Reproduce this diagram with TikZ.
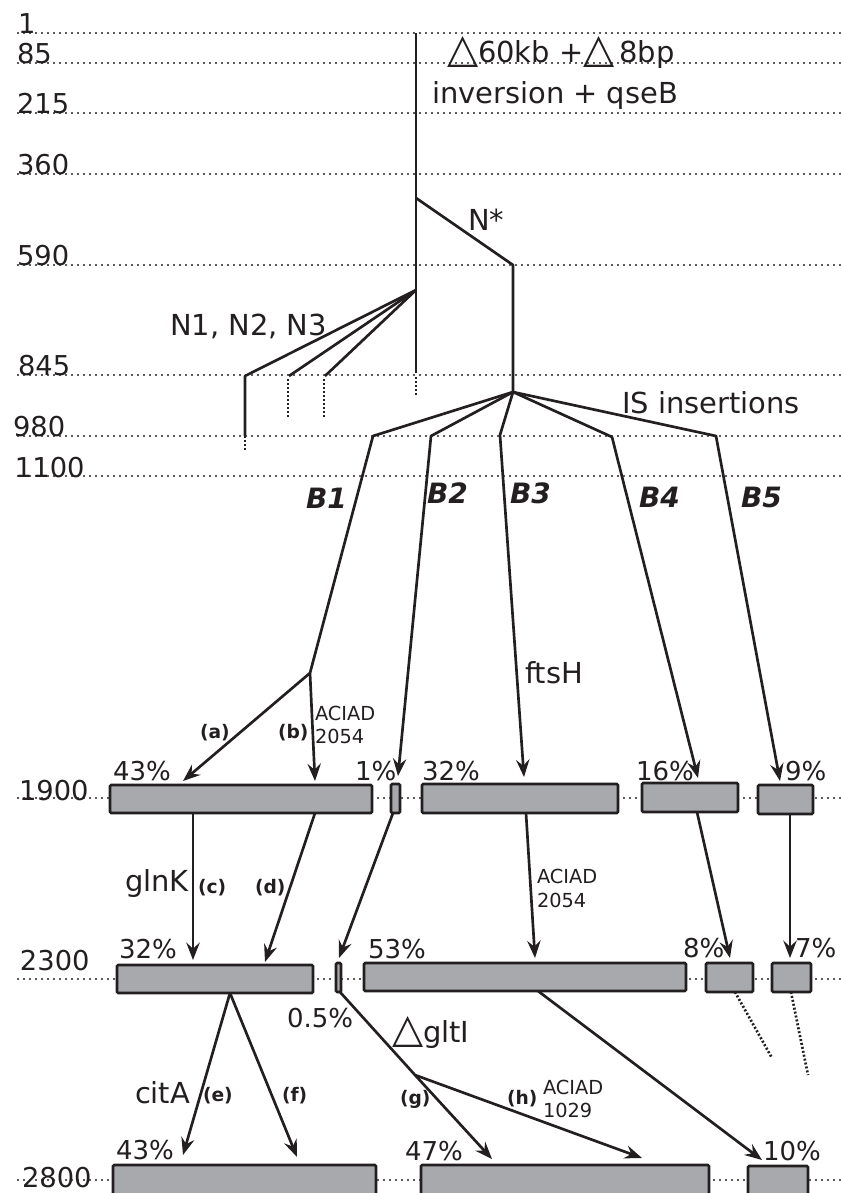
\documentclass[tikz,border=0pt]{standalone}
\usepackage{fontspec}
\usepackage{graphicx}
\setmainfont{DejaVu Sans}
\usetikzlibrary{arrows.meta}
\definecolor{ink}{HTML}{231F20}
\definecolor{boxgray}{HTML}{A7A9AC}
\newcommand{\fbig}{\fontsize{21.7}{25}\selectfont}
\newcommand{\fblab}{\fontsize{21}{25}\selectfont}
\newcommand{\frow}{\fontsize{20.5}{24}\selectfont}
\newcommand{\fpct}{\fontsize{19.5}{23}\selectfont}
\newcommand{\fsm}{\fontsize{14.5}{17}\selectfont}
\newcommand{\fbsm}{\fontsize{14}{16}\selectfont\bfseries}
\newcommand{\bigtri}{\scalebox{1.4}{△}}
\newcommand{\gbx}[5]{\node[gbox, minimum width={(#4-#2)*0.75pt}, minimum height={(#5-#3)*0.75pt}] (#1) at (#2,#3) {};}
\begin{document}
\begin{tikzpicture}[x=0.75pt,y=-0.75pt,
 lbl/.style={inner sep=0pt, outer sep=0pt, anchor=base west, text=ink},
 big/.style={lbl, font=\fbig},
 rowl/.style={lbl, font=\frow},
 pct/.style={lbl, font=\fpct},
 sm/.style={lbl, font=\fsm},
 bsm/.style={lbl, font=\fbsm},
 blab/.style={lbl, font=\fblab\bfseries\itshape},
 dotl/.style={draw=ink, line width=1.6pt, line cap=round, dash pattern=on 0.1pt off 4.4pt},
 tree/.style={draw=ink, line width=2pt, line join=round},
 treedot/.style={draw=ink, line width=2pt, dash pattern=on 1.5pt off 1.5pt},
 arr/.style={tree, -{Stealth[length=13pt,width=10pt,inset=4.5pt]}},
 gbox/.style={draw=ink, fill=boxgray, line width=2pt, rounded corners=1pt, inner sep=0pt, outer sep=0pt, anchor=north west}]
\useasboundingbox (0,0) rectangle (840,1193);

% dotted level lines
\foreach \yy in {33,63,113,174,265,375,436,476,798,979,1180}
  \draw[dotl] (18,\yy) -- (840,\yy);

% level labels
\node[rowl] (r1) at (18,33) {1};
\node[rowl] (r85) at (17,63) {85};
\node[rowl] (r215) at (17,113) {215};
\node[rowl] (r360) at (17,174) {360};
\node[rowl] (r590) at (17,265) {590};
\node[rowl] (r845) at (18,375) {845};
\node[rowl] (r980) at (13,436) {980};
\node[rowl] (r1100) at (15,477) {1100};
\node[rowl] (r1900) at (19,800) {1900};
\node[rowl] (r2300) at (20,970) {2300};
\node[rowl] (r2800) at (22,1187) {2800};

% top labels
\node[big] (del) at (447,62) {\bigtri60kb +\bigtri\,8bp};
\node[big] (inv) at (432,103) {inversion + qseB};
\node[big] (nstar) at (468,230) {N*};
\node[big] (n123) at (170,335) {N1, N2, N3};
\node[big] (isins) at (622,413) {IS insertions};

% trunk and N branches
\coordinate (top) at (416,33);
\coordinate (nst) at (416,198);
\coordinate (nn) at (416,290);
\coordinate (tend) at (416,373);
\coordinate (tdota) at (416,377);
\coordinate (tdotb) at (416,397);
\coordinate (nsb) at (513,265);
\coordinate (is) at (513,392);
\coordinate (n1) at (245,376);
\coordinate (n1e) at (245,436);
\coordinate (n1d) at (245,450);
\coordinate (n2) at (289,376);
\coordinate (n2a) at (288,379);
\coordinate (n2d) at (288,417);
\coordinate (n3) at (325,376);
\coordinate (n3a) at (324,379);
\coordinate (n3d) at (324,417);

\draw[tree] (top) -- (tend);
\draw[treedot] (tdota) -- (tdotb);
\draw[tree] (nst) -- (nsb) -- (is);
\draw[tree] (nn) -- (n1) -- (n1e);
\draw[treedot] (n1e) -- (n1d);
\draw[tree] (nn) -- (n2);
\draw[treedot] (n2a) -- (n2d);
\draw[tree] (nn) -- (n3);
\draw[treedot] (n3a) -- (n3d);

% boxes row 1900
\gbx{a1}{110}{785}{372}{813}
\gbx{a2}{391}{784}{400}{813}
\gbx{a3}{422}{784}{618}{813}
\gbx{a4}{642}{783}{738}{812}
\gbx{a5}{758}{785}{813}{814}
% boxes row 2300
\gbx{c1}{117}{965}{313}{993}
\gbx{c2}{336}{963}{341}{992}
\gbx{c3}{364}{963}{686}{991}
\gbx{c4}{706}{963}{753}{992}
\gbx{c5}{772}{963}{811}{992}
% boxes row 2800
\gbx{d1}{113}{1165}{376}{1205}
\gbx{d2}{421}{1165}{709}{1205}
\gbx{d3}{748}{1166}{808}{1205}

% IS branches
\coordinate (b1a) at (373,436);
\coordinate (b1j) at (310,673);
\coordinate (ta) at (183,781);
\coordinate (tb) at (315,781);
\coordinate (b2a) at (431,436);
\coordinate (tb2) at (398,776);
\coordinate (b3a) at (500,435);
\coordinate (tb3) at (524,777);
\coordinate (b4a) at (612,437);
\coordinate (tb4) at (698,778);
\coordinate (b5a) at (716,436);
\coordinate (tb5) at (780,781);

\draw[tree] (is) -- (b1a) -- (b1j);
\draw[arr] (b1j) -- (ta);
\draw[arr] (b1j) -- (tb);
\draw[arr] (is) -- (b2a) -- (tb2);
\draw[arr] (is) -- (b3a) -- (tb3);
\draw[arr] (is) -- (b4a) -- (tb4);
\draw[arr] (is) -- (b5a) -- (tb5);

\node[blab] (lb1) at (306,508) {B1};
\node[blab] (lb2) at (427,503) {B2};
\node[blab] (lb3) at (510,503) {B3};
\node[blab] (lb4) at (639,507) {B4};
\node[blab] (lb5) at (741,507) {B5};
\node[big] (fts) at (525,683) {ftsH};

% row 1900 -> 2300
\coordinate (sc) at (193,813);  \coordinate (ec) at (193,960);
\coordinate (sd) at (315,813);  \coordinate (ed) at (265,962);
\coordinate (s2) at (393,813);  \coordinate (e2) at (339,958);
\coordinate (s3) at (526,813);  \coordinate (e3) at (535,958);
\coordinate (s4) at (697,812);  \coordinate (e4) at (730,958);
\coordinate (s5) at (790,814);  \coordinate (e5) at (790,958);
\draw[arr] (sc) -- (ec);
\draw[arr] (sd) -- (ed);
\draw[arr] (s2) -- (e2);
\draw[arr] (s3) -- (e3);
\draw[arr] (s4) -- (e4);
\draw[arr] (s5) -- (e5);

% row 2300 -> 2800
\coordinate (se) at (230,993);
\coordinate (ee) at (183,1155);
\coordinate (ef) at (297,1157);
\coordinate (sg) at (340,992);
\coordinate (gj) at (415,1075);
\coordinate (eg) at (492,1159);
\coordinate (eh) at (642,1158);
\coordinate (si) at (538,991);
\coordinate (ei) at (762,1160);
\coordinate (s8) at (735,992);  \coordinate (e8) at (772,1058);
\coordinate (s7) at (791,992);  \coordinate (e7) at (808,1075);
\draw[arr] (se) -- (ee);
\draw[arr] (se) -- (ef);
\draw[arr] (sg) -- (gj) -- (eg);
\draw[arr] (gj) -- (eh);
\draw[arr] (si) -- (ei);
\draw[treedot] (s8) -- (e8);
\draw[treedot] (s7) -- (e7);

% percentages
\node[pct] (p1) at (113,780) {43\%};
\node[pct] (p2) at (355,780) {1\%};
\node[pct] (p3) at (422,780) {32\%};
\node[pct] (p4) at (636,780) {16\%};
\node[pct] (p5) at (785,780) {9\%};
\node[pct] (q1) at (119,958) {32\%};
\node[pct] (q2) at (287,1027) {0.5\%};
\node[pct] (q3) at (368,958) {53\%};
\node[pct] (q4) at (683,957) {8\%};
\node[pct] (q5) at (795,957) {7\%};
\node[pct] (w1) at (116,1159) {43\%};
\node[pct] (w2) at (405,1160) {47\%};
\node[pct] (w3) at (763,1160) {10\%};

% gene labels
\node[big] (gln) at (125,891) {glnK};
\node[big] (cit) at (135,1103) {citA};
\node[big] (glt) at (392,1042) {\bigtri gltI};
\node[sm] (ac1) at (315,720) {ACIAD};
\node[sm] (ac1n) at (315,743) {2054};
\node[sm] (ac2) at (537,883) {ACIAD};
\node[sm] (ac2n) at (537,907) {2054};
\node[sm] (ac3) at (543,1094) {ACIAD};
\node[sm] (ac3n) at (543,1117) {1029};

% step letters
\node[bsm] (la) at (200,738) {(a)};
\node[bsm] (lbb) at (278,738) {(b)};
\node[bsm] (lc) at (198,893) {(c)};
\node[bsm] (ld) at (255,893) {(d)};
\node[bsm] (le) at (203,1101) {(e)};
\node[bsm] (lf) at (282,1101) {(f)};
\node[bsm] (lg) at (400,1104) {(g)};
\node[bsm] (lh) at (507,1104) {(h)};
\end{tikzpicture}
\end{document}
